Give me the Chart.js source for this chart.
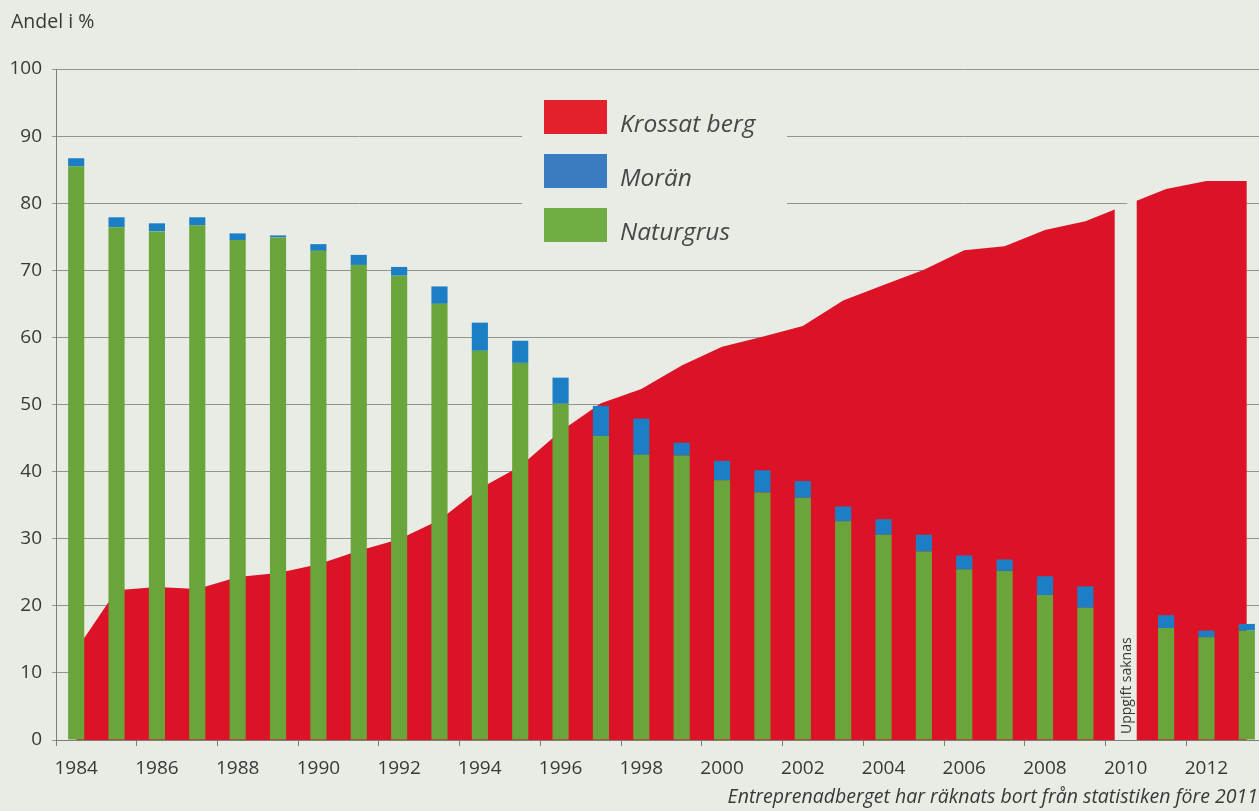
<!DOCTYPE html>
<html lang="sv">
<head>
<meta charset="utf-8">
<title>Andel i %</title>
<script src="https://cdn.jsdelivr.net/npm/chart.js@4.4.1/dist/chart.umd.min.js"></script>
<style>
  html, body { margin: 0; padding: 0; background: #e8ece5; overflow: hidden; }
  #contenedor { width: 1268px; height: 811px; }
</style>
</head>
<body>
<div id="contenedor"><canvas id="grafico" width="1268" height="811"></canvas></div>
<script>
// Datos del gráfico
const anios = ['1984', '1985', '1986', '1987', '1988', '1989', '1990', '1991', '1992', '1993',
  '1994', '1995', '1996', '1997', '1998', '1999', '2000', '2001', '2002', '2003',
  '2004', '2005', '2006', '2007', '2008', '2009', '2010', '2011', '2012', '2013'];
const aniosMarcados = ['1984', '1986', '1988', '1990', '1992', '1994', '1996', '1998',
  '2000', '2002', '2004', '2006', '2008', '2010', '2012'];

const krossatBerg = [13.4, 22.3, 22.8, 22.5, 24.3, 24.9, 26.2, 28.2, 29.9, 32.8,
  37.5, 40.8, 46.0, 50.2, 52.3, 55.8, 58.6, 60.1, 61.7, 65.5,
  67.8, 70.1, 73.0, 73.6, 76.0, 77.3, null, 82.1, 83.3, 83.3];
const moran = [1.2, 1.5, 1.2, 1.2, 1.0, 0.3, 1.0, 1.5, 1.3, 2.6,
  4.2, 3.3, 3.9, 4.5, 5.4, 1.9, 2.9, 3.3, 2.5, 2.2,
  2.3, 2.5, 2.1, 1.7, 2.8, 3.2, null, 1.9, 1.0, 1.0];
const naturgrus = [85.5, 76.4, 75.8, 76.7, 74.5, 74.9, 72.9, 70.8, 69.2, 65.0,
  58.0, 56.2, 50.1, 45.3, 42.5, 42.4, 38.7, 36.9, 36.1, 32.6,
  30.6, 28.1, 25.4, 25.2, 21.6, 19.7, null, 16.7, 15.3, 16.3];

const anioSinDatos = '2010';

// Colores
const fondo = '#e8ece5';
const rojo = '#dc1327';
const azul = '#1c7fc6';
const verde = '#6aa53c';
const gris = '#939393';
const texto = '#383838';
const fuente = "'Open Sans', 'DejaVu Sans', sans-serif";

// Leyenda propia (caja con fondo que tapa las líneas)
const leyenda = [
  { nombre: 'Krossat berg', color: '#e3202b' },
  { nombre: 'Morän', color: '#3a7cc2' },
  { nombre: 'Naturgrus', color: '#70ae45' }
];

// Banda blanca para el año sin datos
const pluginSinDatos = {
  id: 'sinDatos',
  afterDatasetDraw(chart, args) {
    if (args.index !== 0) return;
    const ctx = chart.ctx;
    const x = chart.scales.x;
    const y = chart.scales.y;
    const i = anios.indexOf(anioSinDatos);
    const xc = x.getPixelForValue(i);
    const x0 = x.getPixelForValue(i - 1), y0 = y.getPixelForValue(krossatBerg[i - 1]);
    const x1 = x.getPixelForValue(i + 1), y1 = y.getPixelForValue(krossatBerg[i + 1]);
    const alto = (px) => y0 + (y1 - y0) * (px - x0) / (x1 - x0);
    const izq = xc - 11, der = xc + 11;
    ctx.save();
    ctx.fillStyle = fondo;
    ctx.beginPath();
    ctx.moveTo(izq, alto(izq) - 1);
    ctx.lineTo(der, alto(der) - 1);
    ctx.lineTo(der, y.bottom);
    ctx.lineTo(izq, y.bottom);
    ctx.closePath();
    ctx.fill();
    ctx.restore();
  },
  afterDraw(chart) {
    const ctx = chart.ctx;
    const x = chart.scales.x;
    const y = chart.scales.y;
    const xc = x.getPixelForValue(anios.indexOf(anioSinDatos));
    ctx.save();
    ctx.translate(xc + 1, y.bottom - 6);
    ctx.rotate(-Math.PI / 2);
    ctx.font = '14px ' + fuente;
    ctx.fillStyle = texto;
    ctx.textAlign = 'left';
    ctx.textBaseline = 'middle';
    ctx.fillText('Uppgift saknas', 0, 0);
    ctx.restore();
  }
};

// Títulos y leyenda
const pluginTextos = {
  id: 'textos',
  afterDraw(chart) {
    const ctx = chart.ctx;
    ctx.save();
    ctx.fillStyle = texto;
    ctx.textBaseline = 'alphabetic';
    ctx.font = '19.5px ' + fuente;
    ctx.textAlign = 'left';
    ctx.fillText('Andel i %', 11, 28);

    ctx.font = 'italic 19.5px ' + fuente;
    ctx.textAlign = 'right';
    ctx.fillText('Entreprenadberget har räknats bort från statistiken före 2011', 1258, 803);

    // caja de la leyenda
    ctx.fillStyle = fondo;
    ctx.fillRect(522, 80, 265, 180);
    ctx.font = 'italic 24.5px ' + fuente;
    ctx.textAlign = 'left';
    leyenda.forEach((item, i) => {
      const top = 100 + i * 54;
      ctx.fillStyle = item.color;
      ctx.fillRect(544, top, 63, 34);
      ctx.fillStyle = '#474747';
      ctx.fillText(item.nombre, 620, top + 32);
    });
    ctx.restore();
  }
};

const config = {
  type: 'bar',
  data: {
    labels: anios,
    datasets: [
      {
        type: 'line',
        label: 'Krossat berg',
        data: krossatBerg,
        stack: 'berg',
        order: 2,
        fill: 'origin',
        backgroundColor: rojo,
        borderColor: rojo,
        borderWidth: 0,
        pointRadius: 0,
        tension: 0,
        spanGaps: true
      },
      {
        label: 'Naturgrus',
        data: naturgrus,
        stack: 'grus',
        order: 1,
        backgroundColor: verde,
        categoryPercentage: 1,
        barPercentage: 0.4
      },
      {
        label: 'Morän',
        data: moran,
        stack: 'grus',
        order: 1,
        backgroundColor: azul,
        categoryPercentage: 1,
        barPercentage: 0.4
      }
    ]
  },
  options: {
    responsive: false,
    animation: false,
    layout: { padding: { top: 69, left: 0, right: 1, bottom: 21 } },
    plugins: {
      legend: { display: false },
      tooltip: { enabled: false }
    },
    scales: {
      x: {
        stacked: true,
        offset: true,
        grid: {
          offset: true,
          drawOnChartArea: false,
          tickLength: 6,
          color: (c) => (c.index % 2 === 0 ? '#7d7d7d' : 'rgba(0,0,0,0)')
        },
        border: { color: '#7d7d7d', width: 1 },
        ticks: {
          autoSkip: false,
          maxRotation: 0,
          padding: 11,
          color: texto,
          font: { family: fuente, size: 19 },
          callback: (valor, i) => (aniosMarcados.includes(anios[i]) ? anios[i] : '')
        },
        afterFit: (escala) => { escala.height = 50; }
      },
      y: {
        stacked: true,
        min: 0,
        max: 100,
        grid: { color: gris, lineWidth: 1, tickLength: 4 },
        border: { color: '#7d7d7d', width: 1 },
        ticks: {
          stepSize: 10,
          padding: 10,
          color: texto,
          font: { family: fuente, size: 19 }
        },
        afterFit: (escala) => { escala.width = 56; }
      }
    }
  },
  plugins: [pluginSinDatos, pluginTextos]
};

const ctx = document.getElementById('grafico').getContext('2d');
const grafico = new Chart(ctx, config);
</script>
</body>
</html>
